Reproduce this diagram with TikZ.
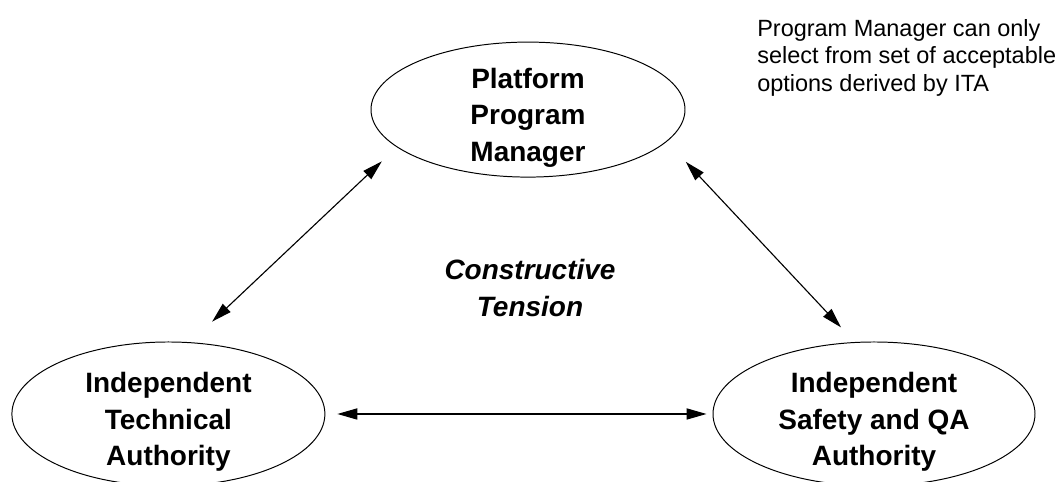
\documentclass[tikz,border=0pt]{standalone}
\usepackage{fontspec}
\setmainfont{Liberation Sans}
\usetikzlibrary{positioning,arrows.meta,shapes.geometric}
\newcommand{\rolefont}{\fontsize{19.9pt}{25.9pt}\selectfont\bfseries}
\newcommand{\tensionfont}{\fontsize{19.9pt}{25.9pt}\selectfont\bfseries\itshape}
\newcommand{\notefont}{\fontsize{16.7pt}{19.6pt}\selectfont}
\newcommand{\topgap}{\rule{0pt}{0.91cm}}

\begin{document}
\begin{tikzpicture}[
  rolebox/.style={draw=black,line width=0.7pt,ellipse,inner xsep=0pt,inner ysep=-0.4cm,font=\rolefont,align=center},
  ar/.style={{Triangle[length=5mm,width=2.8mm]}-{Triangle[length=5mm,width=2.8mm]},line width=0.8pt,black}
]
\useasboundingbox (0,0) rectangle (26.6,12.05);
% TOP: platform program manager and the note beside it
\node[rolebox,minimum width=7.85cm,minimum height=3.375cm] (ppm) at (13.2,9.31) {\topgap Platform\\Program\\Manager};
\node[font=\notefont,align=left,anchor=north west,inner sep=0pt] (note) at (18.925,11.58) {Program Manager can only\\select from set of acceptable\\options derived by ITA};

% MIDDLE: tension label
\node[font=\tensionfont,align=center] (tension) at (13.25,4.85) {Constructive\\Tension};

% BOTTOM: the two independent authorities
\node[rolebox,minimum width=7.825cm,minimum height=3.6cm] (ita) at (4.21,1.7) {\topgap Independent\\Technical\\Authority};
\node[rolebox,minimum width=8.05cm,minimum height=3.6cm] (isa) at (21.85,1.7) {\topgap Independent\\Safety and QA\\Authority};

\draw[ar,shorten <=0.75cm,shorten >=0.515cm] (ita.73.4) -- (ppm.196);
\draw[ar,shorten <=0.69cm,shorten >=0.5cm] (ppm.347) -- (isa.105.9);
\draw[ar,shorten <=0.3cm,shorten >=0.15cm] (ita.east) -- (isa.west);
\end{tikzpicture}
\end{document}
